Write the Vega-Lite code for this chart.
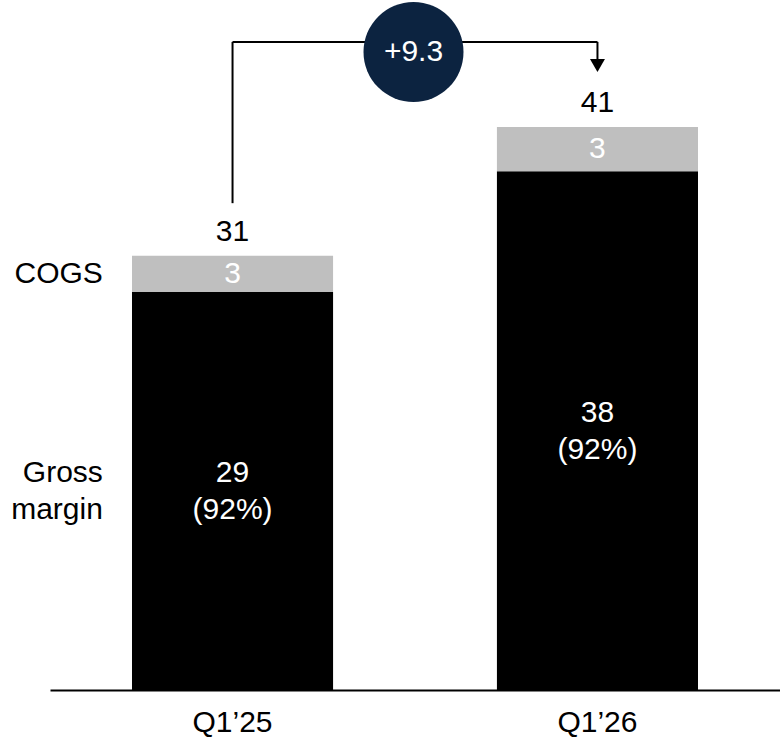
{
  "$schema": "https://vega.github.io/schema/vega-lite/v6.json",
  "width": 730,
  "height": 690,
  "autosize": {"type": "none"},
  "padding": {"left": 50, "top": 0, "right": 0, "bottom": 48},
  "background": "white",
  "config": {
    "view": {"stroke": null},
    "font": "Liberation Sans",
    "text": {"font": "Liberation Sans", "fontSize": 30}
  },
  "datasets": {
    "bars": [
      {"quarter": "Q1’25", "segment": "Gross margin", "value": 28.8, "share": "(92%)"},
      {"quarter": "Q1’25", "segment": "COGS", "value": 2.6, "share": ""},
      {"quarter": "Q1’26", "segment": "Gross margin", "value": 37.5, "share": "(92%)"},
      {"quarter": "Q1’26", "segment": "COGS", "value": 3.2, "share": ""}
    ],
    "change": [
      {"from": "Q1’25", "to": "Q1’26", "change": 9.3}
    ]
  },
  "encoding": {
    "x": {
      "field": "quarter",
      "type": "nominal",
      "scale": {"domain": ["Q1’25", "Q1’26"], "paddingInner": 0.449, "paddingOuter": 0.2247},
      "axis": {
        "title": null,
        "orient": "bottom",
        "domain": true,
        "domainColor": "#000000",
        "domainWidth": 2,
        "ticks": false,
        "grid": false,
        "labelAngle": 0,
        "labelFont": "Liberation Sans",
        "labelFontSize": 30,
        "labelColor": "#000000",
        "labelPadding": 17
      }
    }
  },
  "layer": [
    {
      "data": {"name": "bars"},
      "mark": {"type": "bar"},
      "encoding": {
        "y": {"field": "value", "type": "quantitative", "stack": "zero", "scale": {"domain": [0, 49.89], "nice": false, "zero": true}, "axis": null},
        "color": {"field": "segment", "type": "nominal", "scale": {"domain": ["Gross margin", "COGS"], "range": ["#000000", "#bfbfbf"]}, "legend": null},
        "order": {"field": "segment", "sort": "descending"}
      }
    },
    {
      "data": {"name": "bars"},
      "mark": {"type": "text", "baseline": "middle", "align": "center", "color": "#ffffff", "dy": -18},
      "encoding": {
        "y": {"field": "value", "type": "quantitative", "stack": "zero", "bandPosition": 0.5},
        "detail": {"field": "segment"},
        "order": {"field": "segment", "sort": "descending"},
        "text": {"field": "value", "type": "quantitative", "format": ".0f"},
        "opacity": {"condition": {"test": "datum.segment === 'Gross margin'", "value": 1}, "value": 0}
      }
    },
    {
      "data": {"name": "bars"},
      "mark": {"type": "text", "baseline": "middle", "align": "center", "color": "#ffffff", "dy": 19},
      "encoding": {
        "y": {"field": "value", "type": "quantitative", "stack": "zero", "bandPosition": 0.5},
        "detail": {"field": "segment"},
        "order": {"field": "segment", "sort": "descending"},
        "text": {"field": "share", "type": "nominal"}
      }
    },
    {
      "data": {"name": "bars"},
      "mark": {"type": "text", "baseline": "middle", "align": "center", "color": "#ffffff"},
      "encoding": {
        "y": {"field": "value", "type": "quantitative", "stack": "zero", "bandPosition": 0.5},
        "detail": {"field": "segment"},
        "order": {"field": "segment", "sort": "descending"},
        "text": {"field": "value", "type": "quantitative", "format": ".0f"},
        "opacity": {"condition": {"test": "datum.segment === 'COGS'", "value": 1}, "value": 0}
      }
    },
    {
      "data": {"name": "bars"},
      "transform": [{"filter": "datum.quarter === 'Q1’25'"}],
      "mark": {"type": "text", "baseline": "middle", "align": "right", "color": "#000000"},
      "encoding": {
        "x": {"field": "quarter", "type": "nominal", "bandPosition": -0.145},
        "y": {"field": "value", "type": "quantitative", "stack": "zero", "bandPosition": 0.5},
        "detail": {"field": "segment"},
        "order": {"field": "segment", "sort": "descending"},
        "text": {"field": "segment", "type": "nominal"},
        "opacity": {"condition": {"test": "datum.segment === 'COGS'", "value": 1}, "value": 0}
      }
    },
    {
      "data": {"name": "bars"},
      "transform": [{"filter": "datum.quarter === 'Q1’25'"}],
      "mark": {"type": "text", "baseline": "middle", "align": "right", "color": "#000000", "lineBreak": " ", "lineHeight": 37, "dy": -18},
      "encoding": {
        "x": {"field": "quarter", "type": "nominal", "bandPosition": -0.145},
        "y": {"field": "value", "type": "quantitative", "stack": "zero", "bandPosition": 0.5},
        "detail": {"field": "segment"},
        "order": {"field": "segment", "sort": "descending"},
        "text": {"field": "segment", "type": "nominal"},
        "opacity": {"condition": {"test": "datum.segment === 'Gross margin'", "value": 1}, "value": 0}
      }
    },
    {
      "data": {"name": "bars"},
      "transform": [{"aggregate": [{"op": "sum", "field": "value", "as": "total"}], "groupby": ["quarter"]}],
      "mark": {"type": "text", "baseline": "middle", "align": "center", "color": "#000000", "dy": -24},
      "encoding": {
        "y": {"field": "total", "type": "quantitative"},
        "text": {"field": "total", "type": "quantitative", "format": ".0f"}
      }
    },
    {
      "data": {"name": "change"},
      "mark": {"type": "rule", "color": "#000000", "strokeWidth": 2},
      "encoding": {
        "x": {"field": "from", "type": "nominal"},
        "y": {"datum": 35.2, "type": "quantitative"},
        "y2": {"datum": 46.86}
      }
    },
    {
      "data": {"name": "change"},
      "mark": {"type": "rule", "color": "#000000", "strokeWidth": 2},
      "encoding": {
        "x": {"field": "from", "type": "nominal"},
        "x2": {"field": "to"},
        "y": {"datum": 46.86, "type": "quantitative"}
      }
    },
    {
      "data": {"name": "change"},
      "mark": {"type": "rule", "color": "#000000", "strokeWidth": 2},
      "encoding": {
        "x": {"field": "to", "type": "nominal"},
        "y": {"datum": 46.86, "type": "quantitative"},
        "y2": {"datum": 45.6}
      }
    },
    {
      "data": {"name": "change"},
      "mark": {"type": "point", "shape": "triangle-down", "filled": true, "color": "#000000", "size": 225, "opacity": 1},
      "encoding": {
        "x": {"field": "to", "type": "nominal"},
        "y": {"datum": 45.16, "type": "quantitative"}
      }
    },
    {
      "data": {"name": "change"},
      "mark": {"type": "point", "shape": "circle", "filled": true, "color": "#0c2340", "size": 10000, "opacity": 1},
      "encoding": {
        "x": {"field": "from", "type": "nominal", "bandPosition": 1.4},
        "y": {"datum": 46.13, "type": "quantitative"}
      }
    },
    {
      "data": {"name": "change"},
      "mark": {"type": "text", "baseline": "middle", "align": "center", "color": "#ffffff"},
      "encoding": {
        "x": {"field": "from", "type": "nominal", "bandPosition": 1.4},
        "y": {"datum": 46.13, "type": "quantitative"},
        "text": {"field": "change", "type": "quantitative", "format": "+.1f"}
      }
    }
  ]
}
